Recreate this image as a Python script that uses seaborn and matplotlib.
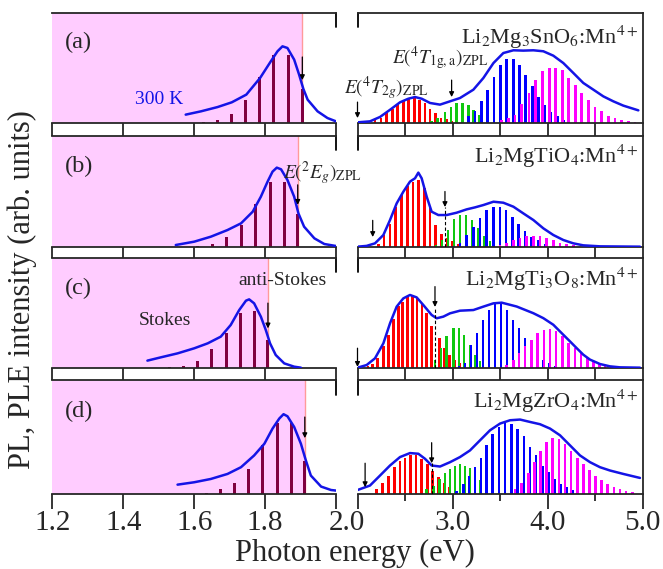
import matplotlib
matplotlib.use("Agg")
import matplotlib.pyplot as plt
from matplotlib.transforms import ScaledTranslation
from matplotlib.ticker import MultipleLocator, FixedLocator
import seaborn as sns

sns.set_style("ticks")
plt.rcParams["font.family"] = ["Liberation Serif", "DejaVu Serif"]
plt.rcParams["mathtext.fontset"] = "stix"

# ---------------- PL spectra (left column), energy in eV, normalised intensity
PL_A_E = [1.576, 1.619, 1.666, 1.706, 1.747, 1.786, 1.816, 1.835, 1.849, 1.863, 1.882, 1.896, 1.908, 1.92, 1.948, 1.976, 2.0]
PL_A_I = [0.076, 0.106, 0.145, 0.188, 0.258, 0.41, 0.56, 0.652, 0.697, 0.682, 0.576, 0.439, 0.309, 0.212, 0.106, 0.045, 0.015]
PL_B_E = [1.548, 1.6, 1.647, 1.694, 1.732, 1.765, 1.788, 1.807, 1.821, 1.833, 1.845, 1.863, 1.882, 1.894, 1.91, 1.939, 1.967, 2.0]
PL_B_I = [0.018, 0.048, 0.093, 0.153, 0.213, 0.318, 0.453, 0.589, 0.679, 0.715, 0.70, 0.604, 0.453, 0.303, 0.183, 0.078, 0.027, 0.009]
PL_C_E = [1.468, 1.506, 1.553, 1.6, 1.638, 1.675, 1.703, 1.727, 1.746, 1.755, 1.769, 1.788, 1.802, 1.814, 1.83, 1.854, 1.882, 1.901]
PL_C_I = [0.067, 0.097, 0.133, 0.179, 0.224, 0.285, 0.391, 0.527, 0.612, 0.624, 0.588, 0.467, 0.345, 0.224, 0.118, 0.042, 0.012, 0.003]
PL_D_E = [1.553, 1.6, 1.647, 1.694, 1.732, 1.769, 1.798, 1.821, 1.84, 1.852, 1.863, 1.882, 1.901, 1.915, 1.929, 1.958, 1.986, 2.0]
PL_D_I = [0.082, 0.103, 0.132, 0.176, 0.235, 0.338, 0.441, 0.574, 0.662, 0.70, 0.682, 0.588, 0.441, 0.294, 0.162, 0.065, 0.035, 0.03]

# vibronic progressions of the 2Eg emission
PLBAR_A_E = [1.625, 1.665, 1.705, 1.745, 1.785, 1.825, 1.865, 1.905]
PLBAR_A_I = [0.01, 0.03, 0.08, 0.21, 0.415, 0.615, 0.615, 0.31]
PLBAR_B_E = [1.61, 1.652, 1.692, 1.733, 1.773, 1.814, 1.854, 1.892]
PLBAR_B_I = [0.008, 0.027, 0.087, 0.2, 0.39, 0.59, 0.59, 0.3]
PLBAR_C_E = [1.53, 1.57, 1.609, 1.65, 1.69, 1.731, 1.77, 1.808]
PLBAR_C_I = [0.008, 0.018, 0.067, 0.17, 0.32, 0.5, 0.52, 0.255]
PLBAR_D_E = [1.635, 1.673, 1.713, 1.753, 1.794, 1.834, 1.875, 1.912]
PLBAR_D_I = [0.01, 0.044, 0.1, 0.22, 0.43, 0.62, 0.62, 0.29]

ZPL_2EG = [1.905, 1.892, 1.808, 1.912]

# ---------------- PLE spectra (right column)
PLE_A_E = [2.0, 2.131, 2.237, 2.342, 2.447, 2.535, 2.605, 2.675, 2.763, 2.868, 2.973, 3.078, 3.219, 3.324, 3.43, 3.534, 3.64, 3.744, 3.85, 3.955, 4.06, 4.165, 4.27, 4.375, 4.481, 4.586, 4.691, 4.796, 4.954]
PLE_A_I = [0.006, 0.015, 0.055, 0.12, 0.188, 0.221, 0.236, 0.221, 0.182, 0.167, 0.197, 0.227, 0.303, 0.409, 0.545, 0.636, 0.661, 0.658, 0.661, 0.652, 0.612, 0.545, 0.455, 0.364, 0.303, 0.242, 0.197, 0.158, 0.115]
PLE_B_E = [2.0, 2.096, 2.184, 2.272, 2.342, 2.412, 2.482, 2.552, 2.605, 2.64, 2.675, 2.728, 2.78, 2.85, 2.938, 3.043, 3.148, 3.236, 3.324, 3.43, 3.534, 3.64, 3.744, 3.85, 3.955, 4.06, 4.165, 4.27, 4.375, 4.551, 4.971]
PLE_B_I = [0.003, 0.01, 0.033, 0.108, 0.243, 0.393, 0.498, 0.589, 0.619, 0.67, 0.619, 0.453, 0.318, 0.288, 0.288, 0.309, 0.339, 0.357, 0.378, 0.408, 0.399, 0.363, 0.303, 0.243, 0.168, 0.108, 0.063, 0.033, 0.015, 0.006, 0.003]
PLE_C_E = [2.0, 2.096, 2.184, 2.272, 2.342, 2.412, 2.482, 2.552, 2.622, 2.692, 2.78, 2.833, 2.903, 2.973, 3.078, 3.219, 3.324, 3.43, 3.517, 3.674, 3.85, 3.955, 4.06, 4.165, 4.235, 4.305, 4.375, 4.446, 4.551, 4.656, 4.761, 4.971]
PLE_C_I = [0.003, 0.027, 0.088, 0.224, 0.406, 0.558, 0.633, 0.664, 0.642, 0.573, 0.482, 0.452, 0.467, 0.497, 0.521, 0.527, 0.558, 0.588, 0.594, 0.559, 0.498, 0.453, 0.393, 0.302, 0.242, 0.181, 0.121, 0.076, 0.036, 0.015, 0.006, 0.003]
PLE_D_E = [2.0, 2.131, 2.237, 2.342, 2.447, 2.552, 2.64, 2.71, 2.78, 2.868, 2.973, 3.078, 3.183, 3.289, 3.394, 3.5, 3.605, 3.71, 3.815, 3.92, 4.025, 4.13, 4.236, 4.341, 4.446, 4.551, 4.656, 4.796, 4.971]
PLE_D_I = [0.035, 0.074, 0.162, 0.25, 0.324, 0.359, 0.353, 0.309, 0.25, 0.241, 0.279, 0.324, 0.382, 0.471, 0.559, 0.618, 0.647, 0.653, 0.632, 0.612, 0.574, 0.515, 0.426, 0.338, 0.279, 0.235, 0.206, 0.176, 0.141]

# absorption bands: 4T2g (red), 4T1g,a (green), 4T1g,b (blue), charge transfer (magenta)
RED_A_E = [2.184, 2.247, 2.307, 2.366, 2.423, 2.482, 2.535, 2.598, 2.65, 2.71, 2.763, 2.823, 2.878, 2.938, 2.991]
RED_A_I = [0.027, 0.05, 0.09, 0.13, 0.17, 0.2, 0.215, 0.224, 0.21, 0.18, 0.13, 0.09, 0.05, 0.033, 0.02]
GRN_A_E = [2.78, 2.843, 2.92, 2.983, 3.043, 3.102, 3.166, 3.218, 3.278]
GRN_A_I = [0.02, 0.045, 0.10, 0.15, 0.18, 0.18, 0.16, 0.12, 0.07]
BLU_A_E = [3.166, 3.236, 3.306, 3.369, 3.436, 3.506, 3.569, 3.639, 3.702, 3.769, 3.839, 3.902, 3.972, 4.035, 4.102, 4.165]
BLU_A_I = [0.06, 0.11, 0.2, 0.3, 0.42, 0.53, 0.58, 0.58, 0.53, 0.44, 0.34, 0.24, 0.16, 0.1, 0.06, 0.03]
MAG_A_E = [3.516, 3.586, 3.657, 3.727, 3.804, 3.875, 3.948, 4.018, 4.085, 4.155, 4.221, 4.295, 4.358, 4.432, 4.498, 4.568, 4.638, 4.709, 4.779, 4.849, 4.919]
MAG_A_I = [0.03, 0.05, 0.076, 0.17, 0.27, 0.39, 0.47, 0.5, 0.5, 0.48, 0.41, 0.35, 0.27, 0.21, 0.15, 0.106, 0.067, 0.045, 0.03, 0.02, 0.012]

RED_B_E = [2.219, 2.279, 2.342, 2.401, 2.464, 2.524, 2.583, 2.643, 2.703, 2.763, 2.822, 2.882, 2.941, 3.001, 3.061]
RED_B_I = [0.03, 0.11, 0.21, 0.36, 0.47, 0.55, 0.59, 0.60, 0.53, 0.36, 0.2, 0.12, 0.08, 0.05, 0.03]
GRN_B_E = [2.826, 2.889, 2.952, 3.015, 3.078, 3.141, 3.204, 3.268, 3.331, 3.394]
GRN_B_I = [0.02, 0.06, 0.15, 0.25, 0.29, 0.29, 0.24, 0.17, 0.10, 0.05]
BLU_B_E = [3.008, 3.078, 3.148, 3.218, 3.289, 3.359, 3.429, 3.499, 3.562, 3.629, 3.692, 3.762, 3.832, 3.902, 3.972]
BLU_B_I = [0.01, 0.04, 0.11, 0.18, 0.26, 0.33, 0.36, 0.36, 0.33, 0.27, 0.21, 0.14, 0.09, 0.06, 0.03]
MAG_B_E = [3.499, 3.569, 3.639, 3.709, 3.78, 3.85, 3.92, 3.99, 4.06, 4.13, 4.2, 4.27]
MAG_B_I = [0.02, 0.04, 0.06, 0.085, 0.1, 0.1, 0.095, 0.08, 0.06, 0.04, 0.025, 0.015]

RED_C_E = [2.11, 2.16, 2.212, 2.272, 2.324, 2.377, 2.43, 2.475, 2.528, 2.577, 2.626, 2.678, 2.728, 2.78, 2.861, 2.913, 2.966, 3.018, 3.071, 3.123, 3.183]
RED_C_I = [0.015, 0.04, 0.09, 0.196, 0.30, 0.45, 0.56, 0.60, 0.65, 0.66, 0.65, 0.59, 0.50, 0.38, 0.27, 0.18, 0.12, 0.075, 0.045, 0.025, 0.015]
GRN_C_E = [2.815, 2.878, 2.938, 3.008, 3.068, 3.12, 3.183, 3.236, 3.289]
GRN_C_I = [0.075, 0.18, 0.29, 0.36, 0.36, 0.30, 0.21, 0.12, 0.06]
BLU_C_E = [3.068, 3.131, 3.194, 3.257, 3.32, 3.383, 3.446, 3.509, 3.572, 3.635, 3.698, 3.762, 3.825, 3.888, 3.951, 4.014, 4.077]
BLU_C_I = [0.02, 0.05, 0.21, 0.32, 0.44, 0.53, 0.59, 0.60, 0.53, 0.44, 0.36, 0.27, 0.20, 0.12, 0.075, 0.045, 0.02]
MAG_C_E = [3.569, 3.639, 3.699, 3.762, 3.832, 3.895, 3.962, 4.025, 4.088, 4.154, 4.217, 4.288, 4.351, 4.417, 4.48, 4.544, 4.603, 4.674]
MAG_C_I = [0.03, 0.076, 0.136, 0.196, 0.257, 0.317, 0.347, 0.353, 0.332, 0.287, 0.227, 0.18, 0.136, 0.09, 0.06, 0.04, 0.025, 0.012]

RED_D_E = [2.202, 2.265, 2.324, 2.388, 2.447, 2.5, 2.559, 2.615, 2.675, 2.735, 2.791, 2.851, 2.91, 2.966, 3.026, 3.078]
RED_D_I = [0.044, 0.1, 0.16, 0.235, 0.29, 0.32, 0.34, 0.34, 0.31, 0.26, 0.2, 0.15, 0.1, 0.065, 0.044, 0.03]
GRN_D_E = [2.728, 2.798, 2.861, 2.92, 2.973, 3.026, 3.078, 3.131, 3.183, 3.236, 3.296, 3.359, 3.422]
GRN_D_I = [0.04, 0.07, 0.13, 0.18, 0.22, 0.25, 0.265, 0.25, 0.23, 0.18, 0.125, 0.075, 0.04]
BLU_D_E = [3.043, 3.113, 3.173, 3.236, 3.299, 3.359, 3.422, 3.488, 3.552, 3.622, 3.685, 3.751, 3.815, 3.878, 3.945, 4.008, 4.071, 4.137, 4.2, 4.263]
BLU_D_I = [0.03, 0.09, 0.16, 0.235, 0.32, 0.43, 0.53, 0.59, 0.62, 0.61, 0.57, 0.51, 0.41, 0.34, 0.25, 0.19, 0.13, 0.09, 0.06, 0.035]
MAG_D_E = [3.656, 3.727, 3.797, 3.86, 3.927, 3.99, 4.053, 4.12, 4.183, 4.246, 4.313, 4.376, 4.439, 4.505, 4.568, 4.631, 4.698, 4.761, 4.824, 4.891]
MAG_D_I = [0.045, 0.1, 0.18, 0.28, 0.38, 0.46, 0.49, 0.48, 0.44, 0.38, 0.32, 0.26, 0.21, 0.16, 0.12, 0.09, 0.065, 0.045, 0.03, 0.02]

# zero-phonon line energies marked by arrows: (4T2g, 4T1g,a)
ZPL_4T = [(2.0, 2.99), (2.16, 2.92), (2.0, 2.815), (2.08, 2.78)]

MATERIALS = [r"Li$_2$Mg$_3$SnO$_6$:Mn$^{4+}$", r"Li$_2$MgTiO$_4$:Mn$^{4+}$",
             r"Li$_2$MgTi$_3$O$_8$:Mn$^{4+}$", r"Li$_2$MgZrO$_4$:Mn$^{4+}$"]
PANEL_TAGS = ["(a)", "(b)", "(c)", "(d)"]
LEFT_TICKS = [1.2, 1.4, 1.6, 1.8, 2.0]
LEFT_TICKLABELS = ["1.2", "1.4", "1.6", "1.8", "2.0"]
RIGHT_TICKS = [2.0, 3.0, 4.0, 5.0]
RIGHT_TICKLABELS = ["", "3.0", "4.0", "5.0"]

PL_CURVES = [(PL_A_E, PL_A_I), (PL_B_E, PL_B_I), (PL_C_E, PL_C_I), (PL_D_E, PL_D_I)]
PL_BARS = [(PLBAR_A_E, PLBAR_A_I), (PLBAR_B_E, PLBAR_B_I), (PLBAR_C_E, PLBAR_C_I), (PLBAR_D_E, PLBAR_D_I)]
PLE_CURVES = [(PLE_A_E, PLE_A_I), (PLE_B_E, PLE_B_I), (PLE_C_E, PLE_C_I), (PLE_D_E, PLE_D_I)]
PLE_BARS = [
    [(RED_A_E, RED_A_I), (GRN_A_E, GRN_A_I), (BLU_A_E, BLU_A_I), (MAG_A_E, MAG_A_I)],
    [(RED_B_E, RED_B_I), (GRN_B_E, GRN_B_I), (BLU_B_E, BLU_B_I), (MAG_B_E, MAG_B_I)],
    [(RED_C_E, RED_C_I), (GRN_C_E, GRN_C_I), (BLU_C_E, BLU_C_I), (MAG_C_E, MAG_C_I)],
    [(RED_D_E, RED_D_I), (GRN_D_E, GRN_D_I), (BLU_D_E, BLU_D_I), (MAG_D_E, MAG_D_I)],
]
BAND_COLORS = ["#FF0000", "#10C810", "#0000FF", "#FF00FF"]

CURVE_COLOR = "#1414E6"
PL_BAR_COLOR = "#800040"
STOKES_FILL = "#FFCCFF"

# ---------------- layout (pixel geometry of a 663x569 figure)
W, H = 663, 569
fig = plt.figure(figsize=(W / 100, H / 100), dpi=100)
tops = [13, 136, 258, 380]
bots = [123, 247, 368, 494]
LX0, LX1 = 52.4, 336.0
RX0, RX1 = 357.5, 642.7


def rect(x0, x1, t, b):
    return [x0 / W, 1 - b / H, (x1 - x0) / W, (b - t) / H]


SPINE_LW = 1.3
PT = 0.72  # points per pixel at 100 dpi

left_axes, right_axes = [], []
for i in range(4):
    axL = fig.add_axes(rect(LX0, LX1, tops[i], bots[i]))
    axR = fig.add_axes(rect(RX0, RX1, tops[i], bots[i]))
    left_axes.append(axL)
    right_axes.append(axR)
    last = i == 3
    gap = (tops[i + 1] - bots[i]) if not last else 15

    for ax, xlim in ((axL, (1.2, 2.0)), (axR, (2.0, 5.0))):
        ax.set_xlim(*xlim)
        ax.set_ylim(0, 1)
        ax.set_yticks([])
        ax.set_facecolor("none")
        for s in ax.spines.values():
            s.set_linewidth(SPINE_LW)
        ax.tick_params(axis="x", which="major", direction="out", length=gap * PT,
                       width=SPINE_LW, labelsize=21, pad=1, labelbottom=last)
        ax.tick_params(axis="x", which="minor", direction="out",
                       length=(7 if last else gap) * PT, width=SPINE_LW)

    axL.spines["left"].set_visible(False)
    axL.spines["right"].set_visible(False)
    axR.spines["left"].set_visible(False)
    axL.xaxis.set_major_locator(FixedLocator(LEFT_TICKS))
    axR.xaxis.set_major_locator(FixedLocator(RIGHT_TICKS))
    axR.xaxis.set_minor_locator(MultipleLocator(0.5))
    if last:
        axL.set_xticklabels(LEFT_TICKLABELS)
        axR.set_xticklabels(RIGHT_TICKLABELS)
        lab = axL.get_xticklabels()[-1]
        lab.set_transform(lab.get_transform() + ScaledTranslation(0.11, 0, fig.dpi_scale_trans))

    # short break marks at the inner ends of the top spines
    axL.plot([1, 1], [1, 0.87], transform=axL.transAxes, color="k", lw=SPINE_LW, clip_on=False)
    axR.plot([0, 0], [1, 0.87], transform=axR.transAxes, color="k", lw=SPINE_LW, clip_on=False)

    # ---- PL: Stokes region, progression and measured band
    zpl = ZPL_2EG[i]
    axL.axvspan(1.2, zpl, color=STOKES_FILL, lw=0, zorder=0)
    axL.axvline(zpl, color="#FF9A9A", lw=1.0, zorder=0.5)
    be, bi = PL_BARS[i]
    axL.bar(be, bi, width=0.0085, color=PL_BAR_COLOR, lw=0, zorder=2)
    ce, ci = PL_CURVES[i]
    sns.lineplot(x=ce, y=ci, ax=axL, color=CURVE_COLOR, lw=1.8, zorder=3)

    # ---- PLE: vibronic progressions and measured band
    for (e, v), c in zip(PLE_BARS[i], BAND_COLORS):
        axR.bar(e, v, width=0.029, color=c, lw=0, zorder=2)
    ce, ci = PLE_CURVES[i]
    sns.lineplot(x=ce, y=ci, ax=axR, color=CURVE_COLOR, lw=1.8, zorder=3)

    axR.text(4.95, 0.0, MATERIALS[i], ha="right", va="center", fontsize=16,
             transform=axR.get_xaxis_transform())
    axL.text(0.044, 0.0, PANEL_TAGS[i], ha="left", va="center", fontsize=17.5,
             transform=axL.transAxes)

# vertical placement of the per-panel labels
tag_y = [0.73, 0.73, 0.72, 0.72]
mat_y = [0.78, 0.82, 0.81, 0.815]
for i in range(4):
    left_axes[i].texts[-1].set_y(tag_y[i])
    right_axes[i].texts[-1].set_y(mat_y[i])


def arrow(ax, x, y0, y1):
    ax.annotate("", xy=(x, y1), xytext=(x, y0), xycoords=("data", "axes fraction"),
                textcoords=("data", "axes fraction"),
                arrowprops=dict(arrowstyle="-|>", color="k", lw=0.9,
                                mutation_scale=7, shrinkA=0, shrinkB=0),
                annotation_clip=False, zorder=5)


# arrows at the 2Eg zero-phonon line
pl_arrow = [(0.60, 0.39), (0.56, 0.38), (0.59, 0.36), (0.675, 0.49)]
for i in range(4):
    arrow(left_axes[i], ZPL_2EG[i], *pl_arrow[i])

# arrows at the 4T2g and 4T1g,a zero-phonon lines
first_arrow = [(0.19, 0.045), (0.24, 0.09), (0.18, 0.01), (0.27, 0.06)]
second_arrow = [(0.39, 0.236), (0.50, 0.36), (0.74, 0.555), (0.45, 0.27)]
for i in range(4):
    axR = right_axes[i]
    x1, x2 = ZPL_4T[i]
    arrow(axR, x1, *first_arrow[i])
    arrow(axR, x2, *second_arrow[i])
    if i > 0:
        axR.plot([x2, x2], [0, second_arrow[i][1]], color="k", lw=0.8,
                 ls=(0, (3, 2)), zorder=4, transform=axR.get_xaxis_transform())

# annotations
right_axes[0].text(2.30, 0.32, r"$E(^4T_{2g})_{\rm ZPL}$", ha="center", va="center",
                   fontsize=14, transform=right_axes[0].get_xaxis_transform(), clip_on=False)
right_axes[0].text(2.868, 0.59, r"$E(^4T_{1{\rm g,a}})_{\rm ZPL}$", ha="center", va="center",
                   fontsize=14, transform=right_axes[0].get_xaxis_transform())
left_axes[0].text(0.376, 0.21, "300 K", color=CURVE_COLOR, ha="center", va="center",
                  fontsize=14, transform=left_axes[0].transAxes)
left_axes[1].text(0.813, 0.67, r"$E(^2E_g)_{\rm ZPL}$", ha="left", va="center",
                  fontsize=14, transform=left_axes[1].transAxes, clip_on=False)
left_axes[2].text(0.81, 0.80, "anti-Stokes", ha="center", va="center",
                  fontsize=14, transform=left_axes[2].transAxes)
left_axes[2].text(0.397, 0.436, "Stokes", ha="center", va="center",
                  fontsize=14, transform=left_axes[2].transAxes)

fig.text(22 / W, 1 - 290 / H, "PL, PLE intensity (arb. units)", rotation=90,
         ha="center", va="center", fontsize=22)
fig.text(355 / W, 1 - 553 / H, "Photon energy (eV)", ha="center", va="center", fontsize=22)

fig.savefig("out.png", dpi=100)
